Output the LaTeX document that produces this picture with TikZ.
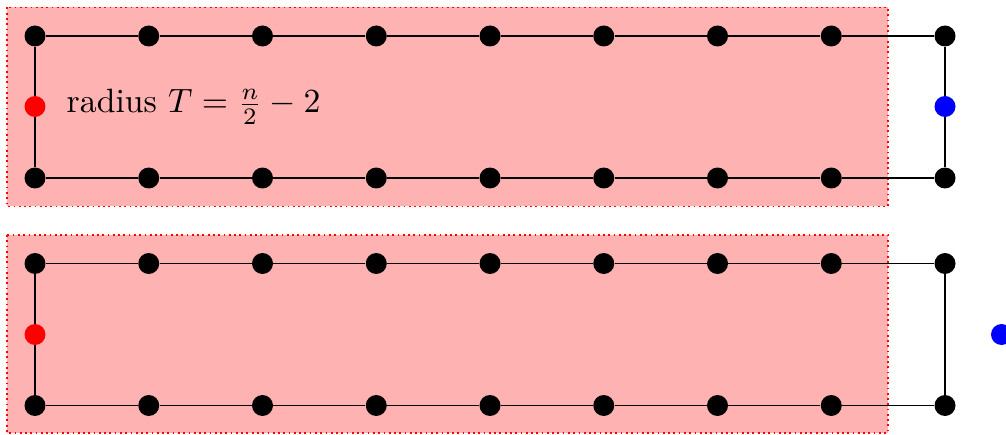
\documentclass[tikz,border=0pt]{standalone}
\begin{document}
\begin{tikzpicture}[x=0.02cm,y=-0.02cm,
  dot/.style={circle,fill=black,inner sep=0pt,minimum size=0.42cm},
  reddot/.style={dot,fill=red},
  bluedot/.style={dot,fill=blue},
  edge/.style={draw=black,line width=0.8pt},
  region/.style={fill=red!30,draw=red,dotted,line width=1pt}]
\useasboundingbox (0,0) rectangle (1006,435);
% regions
\path[region] (7,7.5) rectangle (888,206.5);
\path[region] (7,235) rectangle (888,433);
% panel 1
\foreach \i in {0,...,8} {
  \node[dot] (a\i) at ({35+113.75*\i},36) {};
  \node[dot] (b\i) at ({35+113.75*\i},178) {};
}
\node[reddot] (ra) at (35,106.5) {};
\node[bluedot] (ba) at (945,106.5) {};
\foreach \i [evaluate=\i as \j using int(\i+1)] in {0,...,7} {
  \draw[edge] (a\i) -- (a\j);
  \draw[edge] (b\i) -- (b\j);
}
\draw[edge] (a0) -- (ra) -- (b0);
\draw[edge] (a8) -- (ba) -- (b8);
\node[anchor=base west,inner sep=0pt,scale=1.92] (lbl) at (66,113) {radius $T=\frac{n}{2}-2$};
% panel 2
\foreach \i in {0,...,8} {
  \node[dot] (c\i) at ({35+113.75*\i},263.5) {};
  \node[dot] (d\i) at ({35+113.75*\i},405.5) {};
}
\node[reddot] (rb) at (35,334.5) {};
\node[bluedot] (bb) at (1001.5,334.5) {};
\foreach \i [evaluate=\i as \j using int(\i+1)] in {0,...,7} {
  \draw[edge] (c\i) -- (c\j);
  \draw[edge] (d\i) -- (d\j);
}
\draw[edge] (c0) -- (rb) -- (d0);
\draw[edge] (c8) -- (d8);
\end{tikzpicture}
\end{document}
